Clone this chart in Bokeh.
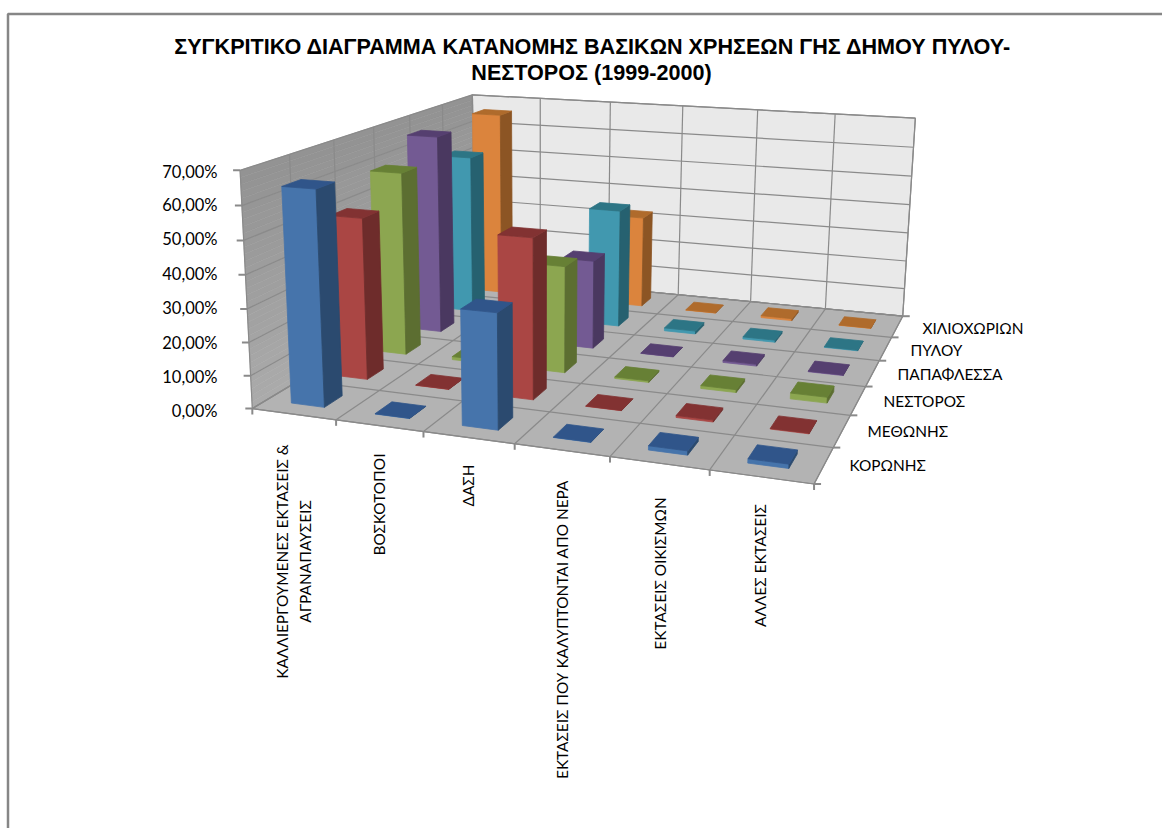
import numpy as np
from bokeh.plotting import figure
from bokeh.core.properties import value
from bokeh.embed import file_html
from bokeh.resources import INLINE

title_lines = ["ΣΥΓΚΡΙΤΙΚΟ ΔΙΑΓΡΑΜΜΑ ΚΑΤΑΝΟΜΗΣ ΒΑΣΙΚΩΝ ΧΡΗΣΕΩΝ ΓΗΣ ΔΗΜΟΥ ΠΥΛΟΥ-", "ΝΕΣΤΟΡΟΣ (1999-2000)"]
categories = ["ΚΑΛΛΙΕΡΓΟΥΜΕΝΕΣ ΕΚΤΑΣΕΙΣ &\nΑΓΡΑΝΑΠΑΥΣΕΙΣ", "ΒΟΣΚΟΤΟΠΟΙ", "ΔΑΣΗ",
              "ΕΚΤΑΣΕΙΣ ΠΟΥ ΚΑΛΥΠΤΟΝΤΑΙ ΑΠΟ ΝΕΡΑ", "ΕΚΤΑΣΕΙΣ ΟΙΚΙΣΜΩΝ", "ΑΛΛΕΣ ΕΚΤΑΣΕΙΣ"]
series_names = ["ΚΟΡΩΝΗΣ", "ΜΕΘΩΝΗΣ", "ΝΕΣΤΟΡΟΣ", "ΠΑΠΑΦΛΕΣΣΑ", "ΠΥΛΟΥ", "ΧΙΛΙΟΧΩΡΙΩΝ"]
koronis = [64.5, 0.1, 34.0, 0.1, 1.2, 1.2]
methonis = [50.5, 0.1, 49.0, 0.1, 0.6, 0.2]
nestoros = [59.3, 1.0, 34.0, 0.5, 0.9, 1.8]
papaflessa = [66.5, 0.1, 29.3, 0.1, 0.6, 0.2]
pylou = [55.0, 0.1, 40.3, 1.0, 0.7, 0.2]
chiliochorion = [66.0, 0.1, 32.3, 0.1, 0.7, 0.1]
value_ticks = [0, 10, 20, 30, 40, 50, 60, 70]
value_labels = ["0,00%", "10,00%", "20,00%", "30,00%", "40,00%", "50,00%", "60,00%", "70,00%"]

all_series = [koronis, methonis, nestoros, papaflessa, pylou, chiliochorion]
front_cols = ["#4674AB", "#AA4644", "#8CA650", "#735A93", "#4198AF", "#DB843D"]
side_cols = ["#2B4A6F", "#6E2C2B", "#5C6E31", "#4A3860", "#266170", "#8C5524"]
top_cols = ["#30558A", "#823232", "#678035", "#553F70", "#2D7585", "#AF6B2C"]

calib = [((0,0,0),(253,409)),((6,0,0),(813,482)),((6,6,0),(903,317)),((0,6,0),(473,273)),
         ((0,0,70),(239,168)),((0,6,70),(472,95)),((6,6,70),(915,117)),
         ((6,5,0),(891,337)),((6,4,0),(878,360)),((6,3,0),(865,386)),((6,2,0),(850,414)),((6,1,0),(833,447)),
         ((3,0,0),(514,446)),((3,6,0),(678,294)),((3,6,70),(682,106)),
         ((0,1,70),(289,153)),((0,2,70),(333,140)),((0,3,70),(373,127)),((0,4,70),(410,115))]
A, b = [], []
for (X, Y, Z), (u, v) in calib:
    A.append([X, Y, Z, 1, 0, 0, 0, 0, -u*X, -u*Y, -u*Z]); b.append(u)
    A.append([0, 0, 0, 0, X, Y, Z, 1, -v*X, -v*Y, -v*Z]); b.append(v)
sol = np.linalg.lstsq(np.array(A, float), np.array(b, float), rcond=None)[0]
P = np.append(sol, 1).reshape(3, 4)

def proj(X, Y, Z):
    h = P @ np.array([X, Y, Z, 1.0])
    return h[0]/h[2], h[1]/h[2]

def poly(pts):
    q = [proj(*t) for t in pts]
    return [a for a, _ in q], [c for _, c in q]

W, H = 1162, 828
p = figure(width=W, height=H, x_range=(0, W), y_range=(H, 0), output_backend="svg",
           toolbar_location=None, min_border=0, outline_line_color=None)
p.axis.visible = False
p.grid.visible = False
p.background_fill_color = "white"
p.border_fill_color = "white"

GRID = "#8A8A8A"
p.line([7.5, 7.5, 1162], [828, 13.5, 13.5], line_color="#868686", line_width=2.5)

N = 35
for k in range(N):
    t = k/N
    c = int(0x93 + (0xAC-0x93)*t)
    col = "#%02X%02X%02X" % (c, c, c)
    z1, z0 = 70*(1-t), 70*(1-(k+1)/N)
    xs, ys = poly([(0,0,z0),(0,6,z0),(0,6,z1),(0,0,z1)])
    p.patch(xs, ys, fill_color=col, line_color=col, line_width=0.6)
xs, ys = poly([(0,6,0),(6,6,0),(6,6,70),(0,6,70)])
p.patch(xs, ys, fill_color="#E9E9E9", line_color=GRID, line_width=1.2)
xs, ys = poly([(0,0,0),(6,0,0),(6,6,0),(0,6,0)])
p.patch(xs, ys, fill_color="#B3B3B3", line_color=GRID, line_width=1.2)

def seg(a, c, w=1.2):
    xs, ys = poly([a, c])
    p.line(xs, ys, line_color=GRID, line_width=w)

for z in value_ticks:
    seg((0,0,z),(0,6,z)); seg((0,6,z),(6,6,z))
for k in range(7):
    seg((0,k,0),(0,k,70)); seg((k,6,0),(k,6,70))
    seg((k,0,0),(k,6,0)); seg((0,k,0),(6,k,0))
    x, y = proj(k,0,0); p.line([x,x],[y,y+6], line_color=GRID, line_width=2)
    x, y = proj(6,k,0); p.line([x,x+7],[y,y], line_color=GRID, line_width=2)
for z in value_ticks:
    x, y = proj(0,0,z); p.line([x-7,x],[y,y], line_color=GRID, line_width=2)

G = 0.3
for j in range(5, -1, -1):
    for i in range(6):
        v = all_series[j][i]
        x0, x1, y0, y1 = i+G, i+1-G, j+G, j+1-G
        faces = [([(x0,y0,0),(x1,y0,0),(x1,y0,v),(x0,y0,v)], front_cols[j]),
                 ([(x1,y0,0),(x1,y1,0),(x1,y1,v),(x1,y0,v)], side_cols[j]),
                 ([(x0,y0,v),(x1,y0,v),(x1,y1,v),(x0,y1,v)], top_cols[j])]
        for pts, col in faces:
            xs, ys = poly(pts)
            p.patch(xs, ys, fill_color=col, line_color=col, line_width=0.8)

p.text(x=[592.5, 591], y=[46, 72], text=title_lines, text_font=value("Liberation Sans"), text_font_style="bold",
       text_font_size="21.6px", text_color="black", text_align="center", text_baseline="middle")
lab_font = value("Lato")
value_y = [410, 376, 342, 307, 273, 238, 204, 171]
p.text(x=[217]*8, y=value_y, text=value_labels, text_font=lab_font, text_font_size="16.5px",
       text_align="right", text_baseline="middle", text_color="black")
ser_x = [849, 867, 883, 897, 910, 922]
ser_y = [464, 430, 400, 373, 349, 327]
p.text(x=ser_x, y=ser_y, text=series_names, text_font=lab_font, text_font_size="15.4px",
       text_align="left", text_baseline="middle", text_color="black")
cat_x = [281.5, 378.5, 467.5, 561, 659, 759]
cat_y = [561, 504, 485, 629, 573, 565]
for k, c in enumerate(categories):
    for m, ln in enumerate(c.split("\n")):
        p.text(x=[cat_x[k] + 23*m], y=[cat_y[k]], text=[ln], text_font=lab_font, text_font_size="15.4px",
               text_align="center", text_baseline="middle", angle=np.pi/2, text_color="black")

open("out.html", "w").write(file_html(p, INLINE))
